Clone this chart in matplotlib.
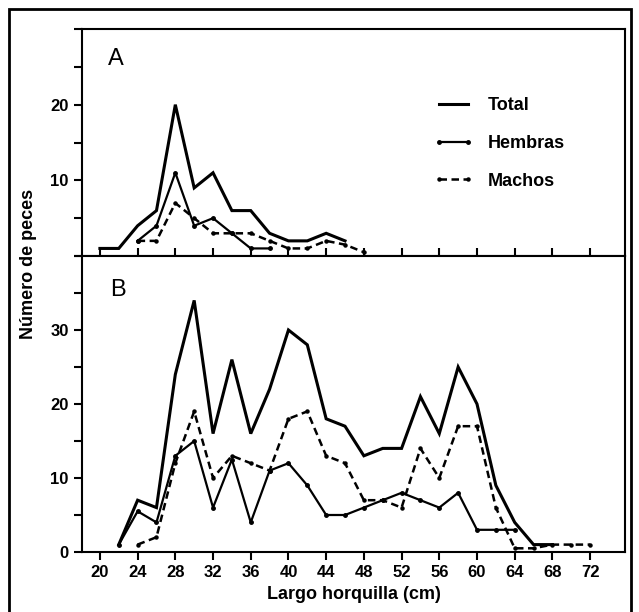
import matplotlib
matplotlib.use("Agg")
import matplotlib.pyplot as plt
from matplotlib.patches import Rectangle
from matplotlib.ticker import MultipleLocator

plt.rcParams['font.family'] = ['Liberation Sans Narrow', 'Liberation Sans', 'DejaVu Sans']
plt.rcParams['font.weight'] = 'bold'
plt.rcParams['axes.labelweight'] = 'bold'

# panel A
a_total_x = [20, 22, 24, 26, 28, 30, 32, 34, 36, 38, 40, 42, 44, 46]
a_total_y = [1, 1, 4, 6, 20, 9, 11, 6, 6, 3, 2, 2, 3, 2]
a_hembras_x = [24, 26, 28, 30, 32, 34, 36, 38]
a_hembras_y = [2, 4, 11, 4, 5, 3, 1, 1]
a_machos_x = [24, 26, 28, 30, 32, 34, 36, 38, 40, 42, 44, 46, 48]
a_machos_y = [2, 2, 7, 5, 3, 3, 3, 2, 1, 1, 2, 1.5, 0.5]

# panel B
b_total_x = [22, 24, 26, 28, 30, 32, 34, 36, 38, 40, 42, 44, 46, 48, 50, 52, 54, 56, 58, 60, 62, 64, 66, 68]
b_total_y = [1, 7, 6, 24, 34, 16, 26, 16, 22, 30, 28, 18, 17, 13, 14, 14, 21, 16, 25, 20, 9, 4, 1, 1]
b_hembras_x = [22, 24, 26, 28, 30, 32, 34, 36, 38, 40, 42, 44, 46, 48, 50, 52, 54, 56, 58, 60, 62, 64]
b_hembras_y = [1, 5.5, 4, 13, 15, 6, 12.5, 4, 11, 12, 9, 5, 5, 6, 7, 8, 7, 6, 8, 3, 3, 3]
b_machos_x = [24, 26, 28, 30, 32, 34, 36, 38, 40, 42, 44, 46, 48, 50, 52, 54, 56, 58, 60, 62, 64, 66, 68, 70, 72]
b_machos_y = [1, 2, 12, 19, 10, 13, 12, 11, 18, 19, 13, 12, 7, 7, 6, 14, 10, 17, 17, 6, 0.5, 0.5, 1, 1, 1]

x_ticks = list(range(20, 73, 4))

W, H = 639, 612
fig = plt.figure(figsize=(W / 100, H / 100), dpi=100)

def fx(px):
    return px / W

def fy(py):
    return 1 - py / H

left, right = fx(82), fx(625)
axA = fig.add_axes([left, fy(256), right - left, fy(29) - fy(256)])
axB = fig.add_axes([left, fy(552), right - left, fy(256) - fy(552)])

def draw(ax, tx, ty, hx, hy, mx, my):
    ax.plot(tx, ty, color='black', lw=2.2, solid_joinstyle='miter', label='Total')
    ax.plot(hx, hy, color='black', lw=1.6, marker='o', ms=2.5, label='Hembras')
    ax.plot(mx, my, color='black', lw=1.8, ls=(0, (3, 1.8)), marker='o', ms=2.2, label='Machos')

draw(axA, a_total_x, a_total_y, a_hembras_x, a_hembras_y, a_machos_x, a_machos_y)
draw(axB, b_total_x, b_total_y, b_hembras_x, b_hembras_y, b_machos_x, b_machos_y)

for ax in (axA, axB):
    ax.set_xlim(18.1, 75.7)
    for s in ax.spines.values():
        s.set_linewidth(1.5)
    ax.set_xticks(x_ticks)
    ax.yaxis.set_major_locator(MultipleLocator(10))
    ax.yaxis.set_minor_locator(MultipleLocator(5))
    ax.tick_params(axis='y', which='both', direction='out', length=6, width=1.5, labelsize=12)
    ax.tick_params(axis='x', width=1.5, length=6, labelsize=12)

axA.set_ylim(0, 30)
axA.set_yticks([10, 20])
axA.tick_params(axis='x', direction='in', labelbottom=False)
axB.set_ylim(0, 40)
axB.set_yticks([0, 10, 20, 30])
axB.tick_params(axis='x', direction='out')

axA.text(0.048, 0.84, 'A', transform=axA.transAxes, fontsize=17, fontweight='normal',
         family=['Liberation Sans', 'DejaVu Sans'])
axB.text(0.052, 0.865, 'B', transform=axB.transAxes, fontsize=17, fontweight='normal',
         family=['Liberation Sans', 'DejaVu Sans'])

axA.legend(loc='upper left', bbox_to_anchor=(0.648, 0.70), frameon=False, fontsize=13,
           handlelength=2.2, numpoints=2, labelspacing=1.15, handletextpad=0.8,
           borderaxespad=0, borderpad=0)

axB.set_xlabel('Largo horquilla (cm)', fontsize=13, labelpad=4)
fig.text(fx(29), fy(264), 'Número de peces', rotation=90, fontsize=13,
         ha='center', va='center')

fig.patches.append(Rectangle((fx(8.5), -0.05), fx(622.5), fy(9) + 0.05,
                             transform=fig.transFigure, fill=False, lw=2, ec='black'))

fig.savefig('out.png', dpi=100)
